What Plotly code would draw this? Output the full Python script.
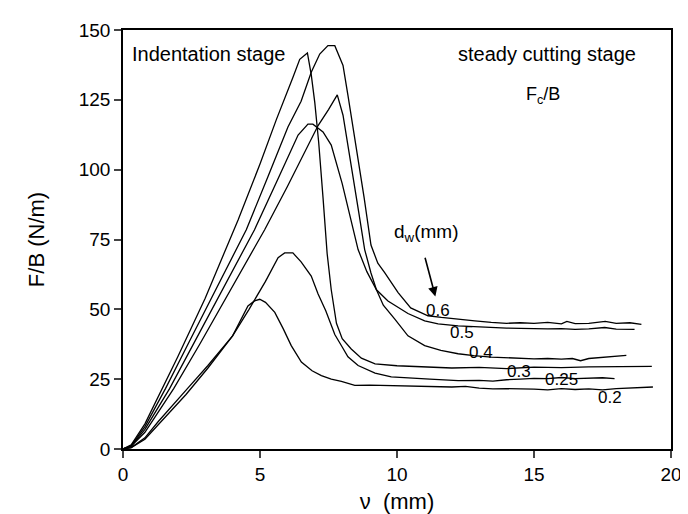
import plotly.graph_objects as go

# d_w = 0.2 mm
x_02 = [0, 0.3, 0.8, 1.28, 2.35, 3.1, 4.0, 4.56, 4.8, 4.99, 5.2, 5.54, 5.85, 6.14, 6.51, 6.9, 7.24, 7.6, 7.97, 8.46,
        9.0, 10.0, 11.0, 12.0, 12.5, 13.0, 13.5, 14.0, 15.0, 15.5, 16.0, 16.5, 17.0, 17.5, 18.0, 18.5, 19.0, 19.34]
y_02 = [0, 0.5, 4, 9.75, 21.6, 29.9, 40.5, 51.2, 53.0, 53.6, 52.5, 48.9, 43.0, 37.0, 31.1, 28.0, 26.3, 25.0, 24.2, 22.8,
        22.9, 22.6, 22.5, 22.2, 22.4, 21.8, 21.5, 21.6, 21.4, 21.2, 21.6, 21.3, 21.5, 21.2, 21.6, 21.9, 22.1, 22.2]

# d_w = 0.25 mm
x_025 = [0, 0.3, 0.8, 1.5, 2.3, 3.1, 4.0, 4.6, 5.2, 5.66, 5.9, 6.2, 6.5, 6.87, 7.12, 7.4, 7.73, 8.0, 8.21, 8.58,
         9.2, 9.79, 10.5, 11.2, 12.23, 13.0, 13.5, 14.0, 14.5, 15.0, 15.5, 16.0, 16.5, 17.0, 17.5, 17.94]
y_025 = [0, 0.5, 3.5, 11, 19.5, 29, 40.5, 50, 60, 68.5, 70.2, 70.2, 67, 61.9, 55.5, 49.5, 41, 36.5, 33, 29.9,
         27.2, 25.8, 25.3, 25.0, 24.5, 24.6, 24.3, 24.8, 25.0, 25.3, 25.2, 25.6, 25.2, 25.4, 25.5, 25.2]

# d_w = 0.3 mm
x_03 = [0, 0.3, 0.8, 1.4, 2.0, 3.0, 4.2, 5.0, 5.6, 6.2, 6.45, 6.73, 6.87, 7.0, 7.14, 7.3, 7.45, 7.6, 7.79, 8.0, 8.33,
        8.7, 9.2, 10, 11, 12, 13, 14, 15, 16, 17, 18, 19.3]
y_03 = [0, 1.5, 9, 21, 33, 54, 82, 102, 118, 133, 139.5, 141.8, 134, 124, 110, 90, 70, 57, 45, 39.5, 35.8,
        32.5, 30.5, 29.8, 29.5, 29.0, 29.2, 28.8, 29.3, 29.1, 29.4, 29.6, 29.6]

# d_w = 0.4 mm
x_04 = [0, 0.3, 0.8, 1.85, 2.8, 4.0, 5.17, 6.0, 6.75, 7.12, 7.5, 7.82, 8.03, 8.21, 8.37, 8.6, 8.82, 9.05, 9.25, 9.5,
        9.92, 10.4, 11.01, 11.6, 12.23, 12.8, 13.44, 14.0, 14.5, 15.0, 15.5, 16.0, 16.4, 16.7, 17.0, 17.5, 18.0, 18.37]
y_04 = [0, 1, 6, 21.6, 37.5, 58.5, 78.5, 94, 108.8, 115.8, 121.5, 126.8, 119.5, 108.8, 100, 85, 71.4, 63, 57, 51.5,
        46.5, 40.5, 37, 35.3, 34.1, 33.4, 32.9, 32.6, 32.6, 32.3, 32.4, 32.2, 32.4, 31.6, 32.4, 32.8, 33.2, 33.5]

# d_w = 0.5 mm
x_05 = [0, 0.3, 0.8, 1.7, 2.5, 3.5, 4.8, 5.6, 6.39, 6.75, 6.93, 7.3, 7.6, 8.0, 8.3, 8.58, 8.9, 9.25, 9.67, 10.4,
        11.01, 11.5, 12.23, 12.8, 13.44, 14.0, 14.5, 15.0, 15.5, 16.0, 16.5, 17.0, 17.58, 18.0, 18.67]
y_05 = [0, 1, 7, 21.6, 36.3, 54.7, 78.5, 95.5, 112.4, 116.3, 116.3, 113.5, 108.8, 95, 83, 71.4, 63.5, 57, 53, 48.5,
        45.9, 44.8, 44.1, 43.8, 43.6, 43.3, 43.2, 43.0, 43.0, 43.1, 42.8, 43.0, 43.5, 42.9, 42.8]

# d_w = 0.6 mm
x_06 = [0, 0.3, 0.8, 1.55, 2.5, 3.5, 4.5, 5.3, 6.02, 6.5, 6.87, 7.18, 7.48, 7.73, 8.03, 8.21, 8.39, 8.55, 8.8, 9.05,
        9.3, 9.55, 10.04, 10.5, 11.13, 11.62, 12.3, 12.84, 13.44, 14.0, 14.5, 15.0, 15.5, 16.0, 16.2, 16.5, 17.0,
        17.6, 18.0, 18.5, 18.92]
y_06 = [0, 1.2, 8, 21.6, 40, 59.5, 78.5, 97.7, 115.3, 124.5, 134.9, 141.4, 144.4, 144.4, 137.3, 126.6, 115.9, 106, 90, 73,
        66.5, 63.1, 56, 50.5, 47.7, 47.1, 46.3, 45.9, 45.3, 45.0, 45.2, 45.0, 45.3, 44.8, 45.7, 44.9, 45.0,
        45.7, 45.0, 45.2, 44.6]

series = [(x_02, y_02), (x_025, y_025), (x_03, y_03), (x_04, y_04), (x_05, y_05), (x_06, y_06)]

# curve labels
label_text = ["0.2", "0.25", "0.3", "0.4", "0.5", "0.6"]
label_x = [17.79, 16.02, 14.46, 13.08, 12.37, 11.5]
label_y = [18.6, 24.9, 27.6, 34.5, 41.6, 49.5]

x_ticks = [0, 5, 10, 15, 20]
y_ticks = [0, 25, 50, 75, 100, 125, 150]

FONT = "Liberation Sans, Arial, sans-serif"

fig = go.Figure()
for xs, ys in series:
    fig.add_trace(go.Scatter(x=xs, y=ys, mode="lines",
                             line=dict(color="black", width=1.3), showlegend=False))

for t, lx, ly in zip(label_text, label_x, label_y):
    fig.add_annotation(x=lx, y=ly, text=t, showarrow=False,
                       font=dict(family=FONT, size=17, color="black"))

fig.add_annotation(x=0.26, y=141.5, text="Indentation stage", showarrow=False, xanchor="left",
                   font=dict(family=FONT, size=20, color="black"))
fig.add_annotation(x=18.8, y=141.5, text="steady cutting stage", showarrow=False, xanchor="right",
                   font=dict(family=FONT, size=20, color="black"))
fig.add_annotation(x=15.33, y=126.5, text="F<sub>c</sub>/B", showarrow=False,
                   font=dict(family=FONT, size=18, color="black"))
fig.add_annotation(x=9.8, y=77.5, text="d<sub>w</sub>(mm)", showarrow=False, xanchor="left",
                   font=dict(family=FONT, size=19, color="black"))
fig.add_annotation(x=11.4, y=54.6, ax=11.01, ay=69.0, axref="x", ayref="y",
                   text="", showarrow=True, arrowhead=2, arrowsize=1.2, arrowwidth=1.6,
                   arrowcolor="black")

fig.update_layout(
    width=688, height=514,
    margin=dict(l=115, r=25, t=19, b=73),
    paper_bgcolor="white", plot_bgcolor="white",
    font=dict(family=FONT, size=19, color="black"),
    xaxis=dict(range=[0, 20], tickvals=x_ticks, ticks="outside", ticklen=7, tickwidth=1.5,
               showline=True, linewidth=1.6, linecolor="black", mirror=True, showgrid=False,
               zeroline=False, title=dict(text="ν  (mm)", font=dict(size=22), standoff=10),
               tickfont=dict(size=19)),
    yaxis=dict(range=[0, 150], tickvals=y_ticks, ticks="outside", ticklen=7, tickwidth=1.5,
               showline=True, linewidth=1.6, linecolor="black", mirror=True, showgrid=False,
               zeroline=False, title=dict(text="F/B (N/m)", font=dict(size=22), standoff=28),
               tickfont=dict(size=19)),
)

fig.write_html("out.html")
